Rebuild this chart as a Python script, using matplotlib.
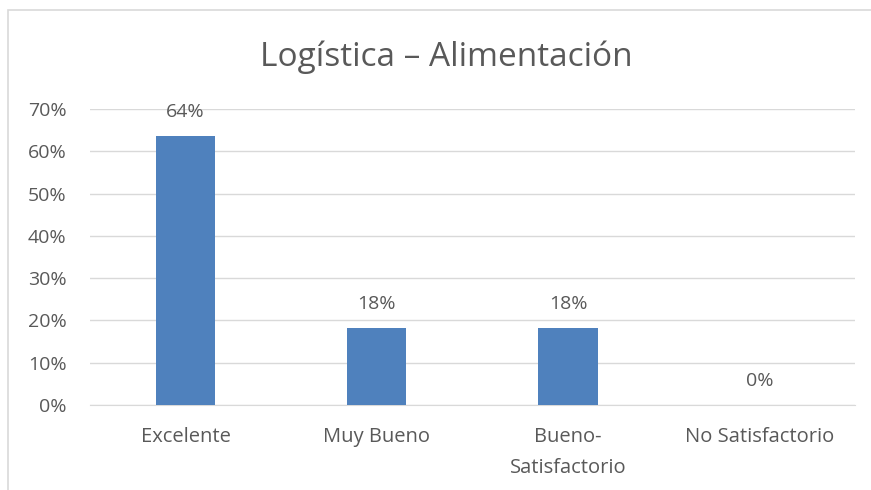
import matplotlib.pyplot as plt
from matplotlib.patches import Rectangle
from matplotlib.ticker import PercentFormatter

categorias = ['Excelente', 'Muy Bueno', 'Bueno-\nSatisfactorio', 'No Satisfactorio']
valores = [0.636, 0.182, 0.182, 0.0]
etiquetas = ['64%', '18%', '18%', '0%']

plt.rcParams['font.family'] = ['Open Sans', 'DejaVu Sans']
gris = '#595959'

fig = plt.figure(figsize=(8.71, 4.90), dpi=100)
ax = fig.add_axes([0.1033, 0.1735, 0.8783, 0.6041])

# borde del grafico
fig.patches.append(Rectangle((8 / 871, -0.1), 1.0, 1.1 - 10 / 490, transform=fig.transFigure,
                             fill=False, edgecolor='#d9d9d9', linewidth=1.2))

x = range(len(categorias))
ax.bar(x, valores, width=0.31, color='#4f81bd', zorder=3)
for i, (v, t) in enumerate(zip(valores, etiquetas)):
    ax.annotate(t, (i, v), xytext=(0, 11), textcoords='offset points',
                ha='center', va='bottom', fontsize=14, color=gris)

ax.set_xlim(-0.5, 3.5)
ax.set_ylim(0, 0.7)
ax.set_yticks([i / 10 for i in range(8)])
ax.yaxis.set_major_formatter(PercentFormatter(1.0, decimals=0))
ax.set_xticks(list(x))
ax.set_xticklabels(categorias, fontsize=14.5, color=gris, linespacing=1.75)
ax.tick_params(axis='y', labelsize=14, labelcolor=gris, length=0, pad=17)
ax.tick_params(axis='x', length=0, pad=16)
ax.grid(axis='y', color='#d9d9d9', linewidth=1, zorder=0)
for s in ax.spines.values():
    s.set_visible(False)
ax.spines['bottom'].set_visible(True)
ax.spines['bottom'].set_color('#d9d9d9')

fig.text(0.512, 0.883, 'Logística – Alimentación', ha='center', va='center',
         fontsize=24, color=gris)

fig.savefig('out.png', dpi=100)
